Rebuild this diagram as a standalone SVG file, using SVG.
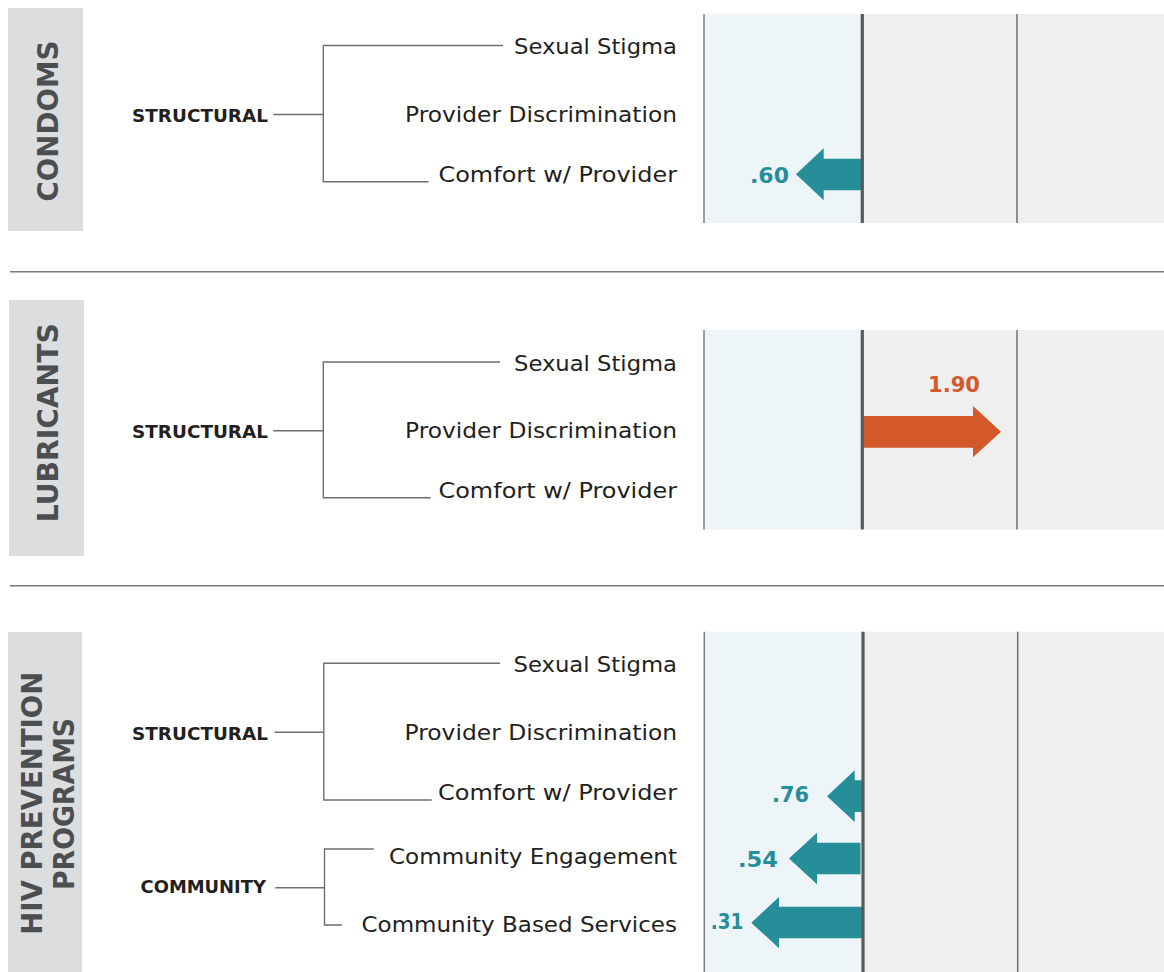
<svg xmlns="http://www.w3.org/2000/svg" width="1164" height="972" viewBox="0 0 1164 972">
<style>
.bg{fill:#ffffff}
.tab{fill:#dcdddf}
.tabtxt{font-family:"DejaVu Sans",sans-serif;font-weight:bold;font-size:29px;fill:#4d4e50;text-anchor:middle}
.cat{font-family:"DejaVu Sans",sans-serif;font-weight:bold;font-size:18.2px;fill:#231f20;text-anchor:end}
.lbl{font-family:"DejaVu Sans",sans-serif;font-size:21px;fill:#231f20;text-anchor:end}
.neg{fill:#edf5f8}
.pos{fill:#efefef}
.edge{stroke:#7d7e80;stroke-width:1.5;fill:none}
.axis{stroke:#58595b;stroke-width:3.2;fill:none}
.grid{stroke:#6d6e71;stroke-width:1.5;fill:none}
.conn{stroke:#6d6e71;stroke-width:1.4;fill:none}
.div{stroke:#77787a;stroke-width:1.6;fill:none}
.teal{fill:#268e99}
.orange{fill:#d4592a}
.num{font-family:"DejaVu Sans",sans-serif;font-weight:bold;font-size:22px}
.numt{fill:#268e99;text-anchor:end}
.numo{fill:#d4592a;text-anchor:middle}
</style>
<rect class="bg" x="0" y="0" width="1164" height="972"/>

<!-- Section 1: CONDOMS -->
<g id="condoms">
  <rect class="tab" x="8" y="8" width="75" height="223"/>
  <text class="tabtxt" transform="translate(47,121) rotate(-90)" y="10.6" textLength="161" lengthAdjust="spacingAndGlyphs">CONDOMS</text>
</g>
<g id="condoms-chart">
  <rect class="neg" x="704" y="14" width="158" height="209"/>
  <rect class="pos" x="862" y="14" width="302" height="209"/>
  <line class="edge" x1="704" y1="14" x2="704" y2="223"/>
  <line class="grid" x1="1017" y1="14" x2="1017" y2="223"/>
</g>
<g id="condoms-structural"><text class="cat" x="268" y="121.7" textLength="136" lengthAdjust="spacingAndGlyphs">STRUCTURAL</text></g>
<g id="condoms-sexual-stigma"><text class="lbl" x="677" y="53.5" textLength="163" lengthAdjust="spacingAndGlyphs">Sexual Stigma</text></g>
<g id="condoms-provider-discrimination"><text class="lbl" x="677" y="121.7" textLength="272" lengthAdjust="spacingAndGlyphs">Provider Discrimination</text></g>
<g id="condoms-comfort"><text class="lbl" x="677" y="181.7" textLength="238.5" lengthAdjust="spacingAndGlyphs">Comfort w/ Provider</text></g>
<g id="condoms-comfort-bar">
  <polygon class="teal" points="862,158.7 823.7,158.7 823.7,148.3 796,174.3 823.7,200.3 823.7,190.3 862,190.3"/>
  <text class="num numt" x="789" y="182.7" textLength="39" lengthAdjust="spacingAndGlyphs">.60</text>
</g>
<line class="axis" x1="862.3" y1="14" x2="862.3" y2="223"/>

<line class="div" x1="10" y1="271.7" x2="1164" y2="271.7"/>

<!-- Section 2: LUBRICANTS -->
<g id="lubricants">
  <rect class="tab" x="9" y="300" width="75" height="256"/>
  <text class="tabtxt" transform="translate(47.2,422.8) rotate(-90)" y="10.6" textLength="199" lengthAdjust="spacingAndGlyphs">LUBRICANTS</text>
</g>
<g id="lubricants-chart">
  <rect class="neg" x="704" y="330" width="158" height="199.5"/>
  <rect class="pos" x="862" y="330" width="302" height="199.5"/>
  <line class="edge" x1="704" y1="330" x2="704" y2="529.5"/>
  <line class="grid" x1="1017" y1="330" x2="1017" y2="529.5"/>
</g>
<g id="lubricants-structural"><text class="cat" x="268" y="438.3" textLength="136" lengthAdjust="spacingAndGlyphs">STRUCTURAL</text></g>
<g id="lubricants-sexual-stigma"><text class="lbl" x="677" y="370.5" textLength="163" lengthAdjust="spacingAndGlyphs">Sexual Stigma</text></g>
<g id="lubricants-provider-discrimination"><text class="lbl" x="677" y="438.3" textLength="272" lengthAdjust="spacingAndGlyphs">Provider Discrimination</text></g>
<g id="lubricants-comfort"><text class="lbl" x="677" y="497.7" textLength="238.5" lengthAdjust="spacingAndGlyphs">Comfort w/ Provider</text></g>
<g id="lubricants-provider-bar">
  <polygon class="orange" points="862,416 973,416 973,406 1001,431.7 973,457.3 973,447.7 862,447.7"/>
  <text class="num numo" x="954" y="391.7" textLength="52" lengthAdjust="spacingAndGlyphs">1.90</text>
</g>
<line class="axis" x1="862.3" y1="330" x2="862.3" y2="529.5"/>

<line class="div" x1="10" y1="585.7" x2="1164" y2="585.7"/>

<!-- Section 3: HIV PREVENTION PROGRAMS -->
<g id="hiv-prevention">
  <rect class="tab" x="8" y="632" width="74" height="340"/>
  <text class="tabtxt" transform="translate(31.2,803.3) rotate(-90)" y="10.6" textLength="263" lengthAdjust="spacingAndGlyphs">HIV PREVENTION</text>
  <text class="tabtxt" transform="translate(63.7,804) rotate(-90)" y="10.6" textLength="172" lengthAdjust="spacingAndGlyphs">PROGRAMS</text>
</g>
<g id="hiv-chart">
  <rect class="neg" x="704" y="631.7" width="158" height="340.3"/>
  <rect class="pos" x="862" y="631.7" width="302" height="340.3"/>
  <line class="edge" x1="704.3" y1="631.7" x2="704.3" y2="972"/>
  <line class="grid" x1="1017.7" y1="631.7" x2="1017.7" y2="972"/>
</g>
<g id="hiv-structural"><text class="cat" x="268" y="740" textLength="136" lengthAdjust="spacingAndGlyphs">STRUCTURAL</text></g>
<g id="hiv-community"><text class="cat" x="266" y="893.3" textLength="125.5" lengthAdjust="spacingAndGlyphs">COMMUNITY</text></g>
<g id="hiv-sexual-stigma"><text class="lbl" x="677" y="671.7" textLength="163.5" lengthAdjust="spacingAndGlyphs">Sexual Stigma</text></g>
<g id="hiv-provider-discrimination"><text class="lbl" x="677" y="740" textLength="272.5" lengthAdjust="spacingAndGlyphs">Provider Discrimination</text></g>
<g id="hiv-comfort"><text class="lbl" x="677" y="800" textLength="239" lengthAdjust="spacingAndGlyphs">Comfort w/ Provider</text></g>
<g id="hiv-community-engagement"><text class="lbl" x="677" y="864.3" textLength="288" lengthAdjust="spacingAndGlyphs">Community Engagement</text></g>
<g id="hiv-community-based-services"><text class="lbl" x="677" y="931.7" textLength="315.5" lengthAdjust="spacingAndGlyphs">Community Based Services</text></g>
<g id="hiv-comfort-bar">
  <polygon class="teal" points="862.5,780.3 854.7,780.3 854.7,770.3 827,796.2 854.7,822 854.7,812 862.5,812"/>
  <text class="num numt" x="809" y="802" textLength="37" lengthAdjust="spacingAndGlyphs">.76</text>
</g>
<g id="hiv-engagement-bar">
  <polygon class="teal" points="860.5,842.7 817,842.7 817,832.7 789,858.5 817,884.3 817,874.3 860.5,874.3"/>
  <text class="num numt" x="778" y="866.7" textLength="40" lengthAdjust="spacingAndGlyphs">.54</text>
</g>
<g id="hiv-services-bar">
  <polygon class="teal" points="862.5,906.7 779,906.7 779,897 751.3,922.7 779,948.3 779,938.3 862.5,938.3"/>
  <text class="num numt" x="743.3" y="929.3" textLength="32.6" lengthAdjust="spacingAndGlyphs">.31</text>
</g>
<line class="axis" x1="863" y1="631.7" x2="863" y2="972"/>

<!-- Connectors -->
<g id="connectors">
  <path class="conn" d="M273.3,114.5 H323.3 M503,45.5 H323.3 V181.7 H428.5"/>
  <path class="conn" d="M273.3,430.7 H323.3 M500,362 H323.3 V497.7 H430.7"/>
  <path class="conn" d="M274.5,732.3 H323.8 M500,663.3 H323.8 V800 H431.7"/>
  <path class="conn" d="M275.3,887.7 H324.5 M373.8,849 H324.5 V925 H341.8"/>
</g>
</svg>
